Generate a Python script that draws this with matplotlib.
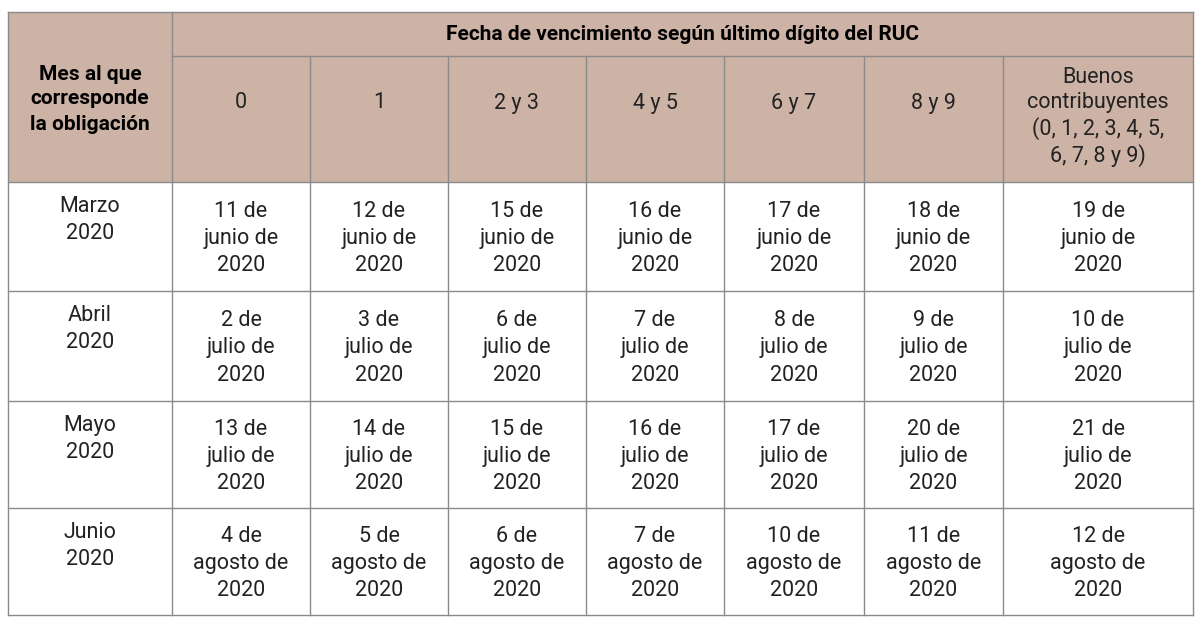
import matplotlib
matplotlib.use("Agg")
import matplotlib.pyplot as plt

months = ["Marzo\n2020", "Abril\n2020", "Mayo\n2020", "Junio\n2020"]
columns = ["0", "1", "2 y 3", "4 y 5", "6 y 7", "8 y 9",
           "Buenos\ncontribuyentes\n(0, 1, 2, 3, 4, 5,\n6, 7, 8 y 9)"]
days = [
    [11, 12, 15, 16, 17, 18, 19],
    [2, 3, 6, 7, 8, 9, 10],
    [13, 14, 15, 16, 17, 20, 21],
    [4, 5, 6, 7, 10, 11, 12],
]
month_names = ["junio", "julio", "julio", "agosto"]
year = 2020
row_header = "Mes al que\ncorresponde\nla obligación"
group_header = "Fecha de vencimiento según último dígito del RUC"

xs = [8, 172, 310, 448, 586, 724, 864, 1003, 1193]
ys = [12, 182, 291, 401, 508, 615]
sub_y = 56
fill = "#cdb3a6"
lc = "#8a8a8a"
tc = "#222222"
fam = ["Roboto", "DejaVu Sans"]
fs = 15.5

fig = plt.figure(figsize=(12, 6.25), dpi=100)
ax = fig.add_axes([0, 0, 1, 1])
ax.set_xlim(0, 1200)
ax.set_ylim(625, 0)
ax.axis("off")

ax.add_patch(plt.Rectangle((xs[0], ys[0]), xs[-1] - xs[0], ys[1] - ys[0],
                           facecolor=fill, edgecolor="none"))
lw = 1
for y in ys:
    ax.plot([xs[0], xs[-1]], [y, y], color=lc, lw=lw)
ax.plot([xs[1], xs[-1]], [sub_y, sub_y], color=lc, lw=lw)
for i, x in enumerate(xs):
    top = ys[0] if i in (0, 1, len(xs) - 1) else sub_y
    ax.plot([x, x], [top, ys[-1]], color=lc, lw=lw)

ax.text(90, 99, row_header, ha="center", va="center", fontsize=15,
        fontweight="bold", color="black", family=fam, linespacing=1.4)
ax.text((xs[1] + xs[-1]) / 2, 35, group_header, ha="center", va="center",
        fontsize=15, fontweight="bold", color="black", family=fam)
for j, c in enumerate(columns):
    ax.text((xs[j + 1] + xs[j + 2]) / 2, 117 if j == 6 else 103, c,
            ha="center", va="center", fontsize=fs, color=tc, family=fam,
            linespacing=1.25)

for i in range(4):
    ax.text(90, ys[i + 1] + 14, months[i], ha="center", va="top",
            fontsize=fs, color=tc, family=fam, linespacing=1.4)
    cy = (ys[i + 1] + ys[i + 2]) / 2 + 2
    for j in range(7):
        txt = f"{days[i][j]} de\n{month_names[i]} de\n{year}"
        ax.text((xs[j + 1] + xs[j + 2]) / 2, cy, txt, ha="center",
                va="center", fontsize=fs, color=tc, family=fam,
                linespacing=1.4)

fig.savefig("out.png", dpi=100, facecolor="white")
